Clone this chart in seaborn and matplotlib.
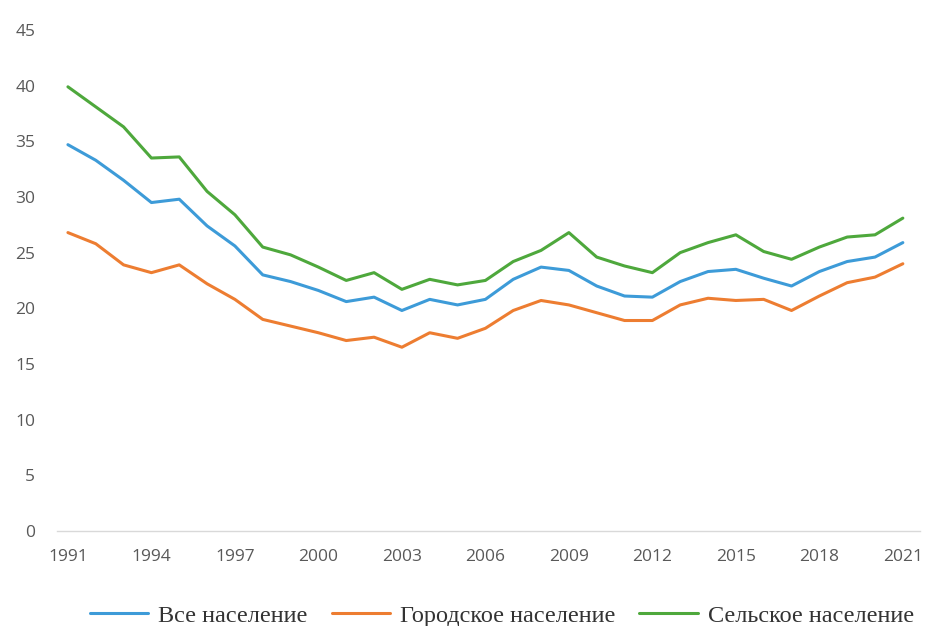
import numpy as np
import pandas as pd
import matplotlib.pyplot as plt
import seaborn as sns

years = list(range(1991, 2022))

# values
all_pop = [34.7, 33.3, 31.5, 29.5, 29.8, 27.4, 25.6, 23.0, 22.4, 21.6, 20.6,
           21.0, 19.8, 20.8, 20.3, 20.8, 22.6, 23.7, 23.4, 22.0, 21.1, 21.0,
           22.4, 23.3, 23.5, 22.7, 22.0, 23.3, 24.2, 24.6, 25.9]
urban_pop = [26.8, 25.8, 23.9, 23.2, 23.9, 22.2, 20.8, 19.0, 18.4, 17.8, 17.1,
             17.4, 16.5, 17.8, 17.3, 18.2, 19.8, 20.7, 20.3, 19.6, 18.9, 18.9,
             20.3, 20.9, 20.7, 20.8, 19.8, 21.1, 22.3, 22.8, 24.0]
rural_pop = [39.9, 38.1, 36.3, 33.5, 33.6, 30.5, 28.4, 25.5, 24.8, 23.7, 22.5,
             23.2, 21.7, 22.6, 22.1, 22.5, 24.2, 25.2, 26.8, 24.6, 23.8, 23.2,
             25.0, 25.9, 26.6, 25.1, 24.4, 25.5, 26.4, 26.6, 28.1]

series_names = ["Все население", "Городское население", "Сельское население"]
colors = ["#3D9BD8", "#ED7D31", "#4EA83C"]

df = pd.DataFrame({
    "year": years * 3,
    "value": all_pop + urban_pop + rural_pop,
    "series": np.repeat(series_names, len(years)),
})

sns.set_theme(style="white")
plt.rcParams["font.family"] = ["Open Sans", "DejaVu Sans"]

fig = plt.figure(figsize=(9.25, 6.26), dpi=100)
ax = fig.add_axes([0.062, 0.152, 0.933, 0.8])

sns.lineplot(data=df, x="year", y="value", hue="series",
             palette=dict(zip(series_names, colors)), linewidth=2.2, ax=ax)

ax.set_xlim(1990.62, 2021.63)
ax.set_ylim(0, 45)
ax.set_yticks(range(0, 46, 5))
ax.set_xticks(range(1991, 2022, 3))
ax.set_xlabel("")
ax.set_ylabel("")

for s in ["top", "right", "left"]:
    ax.spines[s].set_visible(False)
ax.spines["bottom"].set_color("#d9d9d9")
ax.spines["bottom"].set_linewidth(1.0)
ax.tick_params(axis="both", length=0, labelsize=12.5, colors="#595959")
ax.tick_params(axis="x", pad=13)
ax.tick_params(axis="y", pad=16)

handles, labels = ax.get_legend_handles_labels()
ax.legend(handles, labels, loc="lower center", bbox_to_anchor=(0.515, -0.235),
          ncol=3, frameon=False, handlelength=2.4, columnspacing=1.0,
          handletextpad=0.4,
          prop={"family": ["Liberation Serif", "DejaVu Serif"], "size": 17.5})
for t in ax.get_legend().get_texts():
    t.set_color("#333333")

plt.savefig("out.png", dpi=100)
